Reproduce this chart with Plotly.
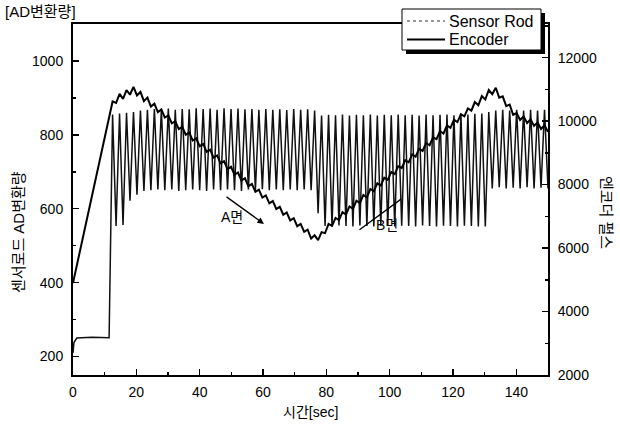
import plotly.graph_objects as go

# ---------------- data ----------------
cycle_time = [12.5, 13.6, 14.7, 15.8, 16.9, 18.0, 19.1, 20.2, 21.3, 22.4,
              23.5, 24.6, 25.7, 26.8, 27.9, 29.0, 30.1, 31.2, 32.3, 33.4,
              34.5, 35.6, 36.7, 37.8, 38.9, 40.0, 41.1, 42.2, 43.3, 44.4,
              45.5, 46.6, 47.7, 48.8, 49.9, 51.0, 52.1, 53.2, 54.3, 55.4,
              56.5, 57.6, 58.7, 59.8, 60.9, 62.0, 63.1, 64.2, 65.3, 66.4,
              67.5, 68.6, 69.7, 70.8, 71.9, 73.0, 74.1, 75.2, 76.3, 77.4,
              78.5, 79.6, 80.7, 81.8, 82.9, 84.0, 85.1, 86.2, 87.3, 88.4,
              89.5, 90.6, 91.7, 92.8, 93.9, 95.0, 96.1, 97.2, 98.3, 99.4,
              100.5, 101.6, 102.7, 103.8, 104.9, 106.0, 107.1, 108.2, 109.3, 110.4,
              111.5, 112.6, 113.7, 114.8, 115.9, 117.0, 118.1, 119.2, 120.3, 121.4,
              122.5, 123.6, 124.7, 125.8, 126.9, 128.0, 129.1, 130.2, 131.3, 132.4,
              133.5, 134.6, 135.7, 136.8, 137.9, 139.0, 140.1, 141.2, 142.3, 143.4,
              144.5, 145.6, 146.7, 147.8, 148.9, 150.0]

sensor_start_time = [0, 0.3, 1.2, 6.0, 11.4]
sensor_start_ad = [210, 238, 250, 252, 251]
sensor_cycle_ad = [855, 553, 858, 556, 860, 622, 862, 638, 866, 648,
                   868, 650, 870, 652, 868, 650, 871, 652, 868, 648,
                   870, 650, 869, 652, 872, 650, 870, 648, 871, 652,
                   868, 650, 872, 652, 870, 650, 871, 648, 869, 652,
                   870, 650, 868, 653, 870, 650, 868, 652, 869, 650,
                   867, 652, 870, 650, 868, 652, 869, 650, 866, 588,
                   852, 553, 854, 552, 853, 555, 855, 553, 852, 552,
                   854, 555, 853, 553, 855, 552, 852, 554, 854, 553,
                   853, 552, 855, 554, 853, 553, 854, 552, 852, 555,
                   855, 553, 853, 552, 854, 554, 855, 553, 853, 552,
                   856, 554, 855, 553, 857, 552, 858, 552, 862, 655,
                   866, 658, 868, 655, 866, 657, 868, 655, 866, 658,
                   868, 655, 866, 657, 868, 655]

encoder_start_time = [0]
encoder_start_pulse = [4900]
encoder_cycle_pulse = [10620, 10570, 10860, 10700, 10980, 10830, 11080, 10810, 10920, 10630,
                       10740, 10460, 10550, 10280, 10370, 10110, 10180, 9930, 10000, 9750,
                       9820, 9570, 9640, 9390, 9460, 9210, 9280, 9030, 9100, 8850,
                       8920, 8670, 8740, 8490, 8560, 8310, 8380, 8130, 8200, 7950,
                       8020, 7770, 7840, 7590, 7660, 7410, 7480, 7230, 7300, 7050,
                       7120, 6870, 6940, 6690, 6760, 6510, 6580, 6300, 6400, 6250,
                       6500, 6470, 6760, 6700, 6950, 6880, 7130, 7060, 7310, 7240,
                       7490, 7420, 7670, 7600, 7860, 7790, 8040, 7970, 8220, 8150,
                       8400, 8330, 8580, 8520, 8770, 8700, 8950, 8880, 9130, 9060,
                       9310, 9240, 9490, 9430, 9680, 9610, 9860, 9790, 10040, 9970,
                       10220, 10150, 10400, 10330, 10600, 10500, 10790, 10680, 10980, 10850,
                       11050, 10740, 10780, 10470, 10520, 10200, 10250, 10035, 10150, 9940,
                       10055, 9850, 9960, 9750, 9870, 9660]

sensor_time = sensor_start_time + cycle_time
sensor_ad = sensor_start_ad + sensor_cycle_ad
encoder_time = encoder_start_time + cycle_time
encoder_pulse = encoder_start_pulse + encoder_cycle_pulse

x_ticks = [0, 20, 40, 60, 80, 100, 120, 140]
x_minor = [10, 30, 50, 70, 90, 110, 130, 150]
y_ticks = [200, 400, 600, 800, 1000]
y_minor = [300, 500, 700, 900, 1100]
y2_ticks = [2000, 4000, 6000, 8000, 10000, 12000]
y2_minor = [3000, 5000, 7000, 9000, 11000, 13000]

series_names = ["Sensor Rod", "Encoder"]

# ---------------- figure ----------------
FONT = "Liberation Sans, Arial, Noto Sans CJK KR, sans-serif"
L, R, T, B = 73, 548, 24, 375          # plot area in pixels
W, H = R - L, B - T


def px(xp):
    return (xp - L) / W


def py(yp):
    return (B - yp) / H


fig = go.Figure()
fig.add_trace(go.Scatter(x=sensor_time, y=sensor_ad, name=series_names[0], mode="lines",
                         line=dict(color="#111111", width=1.5), yaxis="y", showlegend=False))
fig.add_trace(go.Scatter(x=encoder_time, y=encoder_pulse, name=series_names[1], mode="lines",
                         line=dict(color="black", width=2), yaxis="y2", showlegend=False))

axis_common = dict(ticks="inside", ticklen=6, tickwidth=1.5, tickcolor="black",
                   showline=True, linecolor="black", linewidth=2,
                   showgrid=False, zeroline=False, automargin=False,
                   tickfont=dict(family=FONT, size=14, color="black"))

fig.update_layout(
    template="none",
    width=620, height=430,
    margin=dict(l=L, r=620 - R, t=T, b=430 - B, autoexpand=False),
    paper_bgcolor="white", plot_bgcolor="white",
    font=dict(family=FONT, size=14, color="black"),
    xaxis=dict(range=[0, 150], tickvals=x_ticks, mirror=True,
               minor=dict(ticks="inside", ticklen=3, tickvals=x_minor, tickcolor="black"),
               ticklabelstandoff=3, **axis_common),
    yaxis=dict(range=[150, 1100], tickvals=y_ticks,
               minor=dict(ticks="inside", ticklen=3, tickvals=y_minor, tickcolor="black"),
               ticklabelstandoff=5, **axis_common),
    yaxis2=dict(range=[2000, 13060], tickvals=y2_ticks, overlaying="y", side="right",
                tickformat="d",
                minor=dict(ticks="inside", ticklen=3, tickvals=y2_minor, tickcolor="black"),
                ticklabelstandoff=5, **axis_common),
    showlegend=False,
)

# legend box with drop shadow
fig.add_shape(type="rect", xref="paper", yref="paper",
              x0=px(406), x1=px(545), y0=py(54), y1=py(13),
              fillcolor="black", line=dict(width=0), layer="above")
fig.add_shape(type="rect", xref="paper", yref="paper",
              x0=px(402), x1=px(541), y0=py(50), y1=py(9),
              fillcolor="white", line=dict(color="black", width=1), layer="above")
fig.add_shape(type="line", xref="paper", yref="paper",
              x0=px(407), x1=px(445), y0=py(21), y1=py(21),
              line=dict(color="#333333", width=1, dash="dot"), layer="above")
fig.add_shape(type="line", xref="paper", yref="paper",
              x0=px(407), x1=px(445), y0=py(39.5), y1=py(39.5),
              line=dict(color="black", width=2), layer="above")
fig.add_annotation(text=series_names[0], xref="paper", yref="paper",
                   x=px(447), y=py(21), xanchor="left", yanchor="middle",
                   showarrow=False, font=dict(family=FONT, size=16))
fig.add_annotation(text=series_names[1], xref="paper", yref="paper",
                   x=px(447), y=py(39.5), xanchor="left", yanchor="middle",
                   showarrow=False, font=dict(family=FONT, size=16))

# texts
fig.add_annotation(text="[AD변환량]", xref="paper", yref="paper",
                   x=px(3), y=py(12), xanchor="left", yanchor="middle",
                   showarrow=False, font=dict(family=FONT, size=15))
fig.add_annotation(text="센서로드 AD변환량", xref="paper", yref="paper",
                   x=px(18), y=py(232), textangle=-90,
                   xanchor="center", yanchor="middle", showarrow=False,
                   font=dict(family=FONT, size=15))
fig.add_annotation(text="엔코더 펄스", xref="paper", yref="paper",
                   x=px(607), y=py(212), textangle=90,
                   xanchor="center", yanchor="middle", showarrow=False,
                   font=dict(family=FONT, size=15))
fig.add_annotation(text="시간[sec]", xref="paper", yref="paper",
                   x=0.5, y=py(412), xanchor="center", yanchor="middle",
                   showarrow=False, font=dict(family=FONT, size=14))

# A / B side arrows
fig.add_annotation(x=60.3, y=559, ax=48.0, ay=635, xref="x", yref="y",
                   axref="x", ayref="y", text="", showarrow=True,
                   arrowhead=2, arrowsize=1, arrowwidth=1.3, arrowcolor="black")
fig.add_annotation(x=50.2, y=578, xref="x", yref="y", text="A면", showarrow=False,
                   font=dict(family=FONT, size=14))
fig.add_annotation(x=103.6, y=626, ax=90.0, ay=540, xref="x", yref="y",
                   axref="x", ayref="y", text="", showarrow=True,
                   arrowhead=0, arrowwidth=1.3, arrowcolor="black")
fig.add_annotation(x=99.2, y=556, xref="x", yref="y", text="B면", showarrow=False,
                   font=dict(family=FONT, size=14))

fig.write_html("out.html",
               config={"displayModeBar": False, "staticPlot": True},
               post_script="document.body.style.margin='0';document.body.style.overflow='hidden';")
